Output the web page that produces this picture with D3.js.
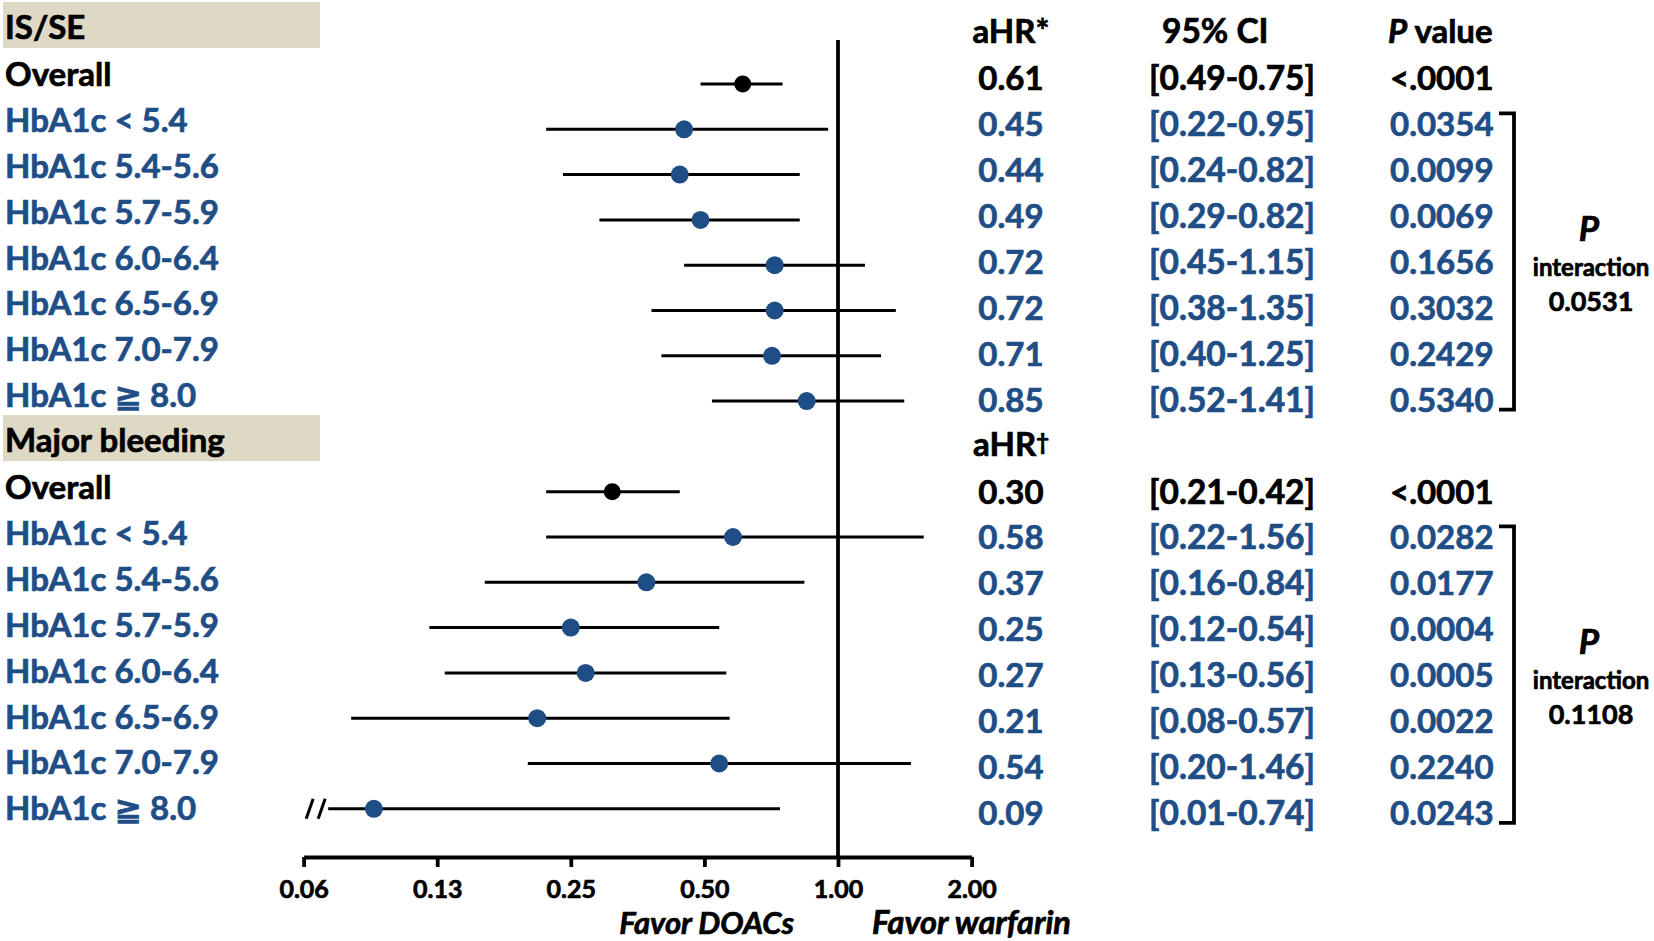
<!DOCTYPE html>
<html><head><meta charset="utf-8">
<script src="https://cdn.jsdelivr.net/npm/d3@7"></script>
<style>
body{margin:0;background:#fff}
svg{display:block}
text{font-family:Lato,'DejaVu Sans',sans-serif;font-weight:700}
</style>
</head><body>
<svg id="chart" width="1654" height="941"></svg>
<script>
// ---------- data ----------
const categories = ["IS/SE","Overall","HbA1c < 5.4","HbA1c 5.4-5.6","HbA1c 5.7-5.9","HbA1c 6.0-6.4","HbA1c 6.5-6.9","HbA1c 7.0-7.9","HbA1c \u2267 8.0",
                    "Major bleeding","Overall","HbA1c < 5.4","HbA1c 5.4-5.6","HbA1c 5.7-5.9","HbA1c 6.0-6.4","HbA1c 6.5-6.9","HbA1c 7.0-7.9","HbA1c \u2267 8.0"];
const rowKind = ["header","overall","sub","sub","sub","sub","sub","sub","sub",
                 "header","overall","sub","sub","sub","sub","sub","sub","sub"];
// plotted estimates (as read from the marks)
const hrPlot = [null,0.61,0.45,0.44,0.49,0.72,0.72,0.71,0.85, null,0.31,0.58,0.37,0.25,0.27,0.21,0.54,0.09];
const loPlot = [null,0.49,0.22,0.24,0.29,0.45,0.38,0.40,0.52, null,0.22,0.22,0.16,0.12,0.13,0.08,0.20,0.01];
const hiPlot = [null,0.75,0.95,0.82,0.82,1.15,1.35,1.25,1.41, null,0.44,1.56,0.84,0.54,0.56,0.57,1.46,0.74];
// table texts
const hrText = ["aHR*","0.61","0.45","0.44","0.49","0.72","0.72","0.71","0.85","aHR","0.30","0.58","0.37","0.25","0.27","0.21","0.54","0.09"];
const ciText = ["95% CI","[0.49-0.75]","[0.22-0.95]","[0.24-0.82]","[0.29-0.82]","[0.45-1.15]","[0.38-1.35]","[0.40-1.25]","[0.52-1.41]","",
                "[0.21-0.42]","[0.22-1.56]","[0.16-0.84]","[0.12-0.54]","[0.13-0.56]","[0.08-0.57]","[0.20-1.46]","[0.01-0.74]"];
const pText = ["value","<.0001","0.0354","0.0099","0.0069","0.1656","0.3032","0.2429","0.5340","",
               "<.0001","0.0282","0.0177","0.0004","0.0005","0.0022","0.2240","0.0243"];
const interactionGroups = [{first:2,last:8,p:"0.0531"},{first:11,last:17,p:"0.1108"}];
const tickValues = [0.0625,0.125,0.25,0.5,1,2];
const tickLabels = ["0.06","0.13","0.25","0.50","1.00","2.00"];
const axisClipMin = 0.071;

// ---------- scales ----------
const BLUE = "#1f4e87", BLACK = "#000";
const svg = d3.select("#chart");
const x = d3.scaleLog().base(2).domain([0.0625,2]).range([303.6,971.6]);
const yText = d3.scaleLinear().domain([0,17]).range([40,40+45.9*17]);
const yDot = d3.scaleLinear().domain([1,17]).range([84,84+45.3*16]);
const yRight = r => yText(r)+4.5;
const axisY = 857;
const rows = categories.map((c,i)=>({i,label:c,kind:rowKind[i],hr:hrPlot[i],lo:loPlot[i],hi:hiPlot[i]}));
const colorOf = d => d.kind==="sub" ? BLUE : BLACK;

// header boxes
svg.selectAll("rect.hdr").data(rows.filter(d=>d.kind==="header")).join("rect")
  .attr("x",3).attr("width",317).attr("y",d=>yText(d.i)-38).attr("height",46)
  .attr("fill","#ddd9c4");

// left labels
svg.selectAll("text.lbl").data(rows).join("text")
  .attr("x",5).attr("y",d=>yText(d.i)-(d.kind==="header"?1:0)).attr("font-size",33)
  .attr("fill",colorOf).text(d=>d.label);

// reference line at 1
svg.append("line").attr("x1",x(1)).attr("x2",x(1)).attr("y1",40).attr("y2",axisY)
  .attr("stroke","#000").attr("stroke-width",3.8);

// axis
const axis = d3.axisBottom(x).tickValues(tickValues).tickFormat((d,i)=>tickLabels[i])
  .tickSizeInner(10).tickSizeOuter(0).tickPadding(13);
const gA = svg.append("g").attr("transform",`translate(0,${axisY})`).call(axis);
gA.select(".domain").attr("stroke-width",3.8).attr("stroke","#000");
gA.selectAll(".tick line").attr("stroke-width",3.8).attr("stroke","#000");
gA.selectAll(".tick text").attr("font-size",25).attr("font-family","Lato,sans-serif").attr("font-weight",700).attr("fill","#000");

// CI lines
const data = rows.filter(d=>d.hr!=null);
svg.selectAll("line.ci").data(data).join("line")
  .attr("x1",d=>x(Math.max(d.lo,axisClipMin))).attr("x2",d=>x(d.hi))
  .attr("y1",d=>yDot(d.i)).attr("y2",d=>yDot(d.i))
  .attr("stroke","#000").attr("stroke-width",3);
// break marks for clipped CIs
data.filter(d=>d.lo<axisClipMin).forEach(d=>{
  const x0 = x(axisClipMin), y0 = yDot(d.i);
  [-19,-7].forEach(off=>{
    svg.append("line").attr("x1",x0+off-3).attr("y1",y0+10).attr("x2",x0+off+4).attr("y2",y0-10)
      .attr("stroke","#000").attr("stroke-width",3);
  });
});
// dots
svg.selectAll("circle.pt").data(data).join("circle")
  .attr("cx",d=>x(d.hr)).attr("cy",d=>yDot(d.i))
  .attr("r",d=>d.kind==="overall"?8.5:9)
  .attr("fill",d=>d.kind==="overall"?BLACK:BLUE);

// right table
svg.selectAll("text.hr").data(rows).join("text")
  .attr("x",1011).attr("y",d=>yRight(d.i)-(d.kind==="header"?2:0)).attr("text-anchor","middle")
  .attr("font-size",33).attr("fill",colorOf)
  .each(function(d){
    const t=d3.select(this);
    t.text(hrText[d.i]);
    if(d.i===9) t.append("tspan").attr("font-size",22).attr("dy",-6).text("\u2020");
  });
svg.selectAll("text.ci").data(rows).join("text")
  .attr("x",d=>d.i===0?1162:1149).attr("y",d=>yRight(d.i)-(d.kind==="header"?2:0))
  .attr("font-size",33.5).attr("fill",colorOf).text(d=>ciText[d.i]);
svg.selectAll("text.pv").data(rows).join("text")
  .attr("x",1390).attr("y",d=>yRight(d.i)-(d.kind==="header"?2:0))
  .attr("font-size",33).attr("fill",colorOf)
  .each(function(d){
    const t=d3.select(this);
    if(d.i===0){
      t.attr("x",1388);
      t.append("tspan").attr("font-style","italic").text("P");
      t.append("tspan").text(" "+pText[0]);
    } else t.text(pText[d.i]);
  });

// interaction brackets
interactionGroups.forEach(g=>{
  const top = yRight(g.first)-23, bot = yRight(g.last)-2, bx = 1514;
  svg.append("path").attr("d",`M1499,${top}H${bx}V${bot}H1499`)
    .attr("fill","none").attr("stroke","#000").attr("stroke-width",3.8);
  const mid = (top+bot)/2;
  svg.append("text").attr("x",1589).attr("y",mid-21).attr("text-anchor","middle")
    .attr("font-size",35).attr("font-style","italic").text("P");
  svg.append("text").attr("x",1591).attr("y",mid+14).attr("text-anchor","middle")
    .attr("font-size",24).text("interaction");
  svg.append("text").attr("x",1591).attr("y",mid+49).attr("text-anchor","middle")
    .attr("font-size",27).text(g.p);
});

// favor labels
svg.append("text").attr("x",794).attr("y",934).attr("text-anchor","end")
  .attr("font-size",31).attr("font-style","italic").text("Favor DOACs");
svg.append("text").attr("x",872).attr("y",934)
  .attr("font-size",32.5).attr("font-style","italic").text("Favor warfarin");

// heavier glyph strokes, matching each text's fill
svg.selectAll("text").each(function(){
  const f = this.getAttribute("fill") || "#000";
  d3.select(this).attr("stroke",f).attr("stroke-width",0.7).attr("fill",f);
});
</script>
</body></html>
